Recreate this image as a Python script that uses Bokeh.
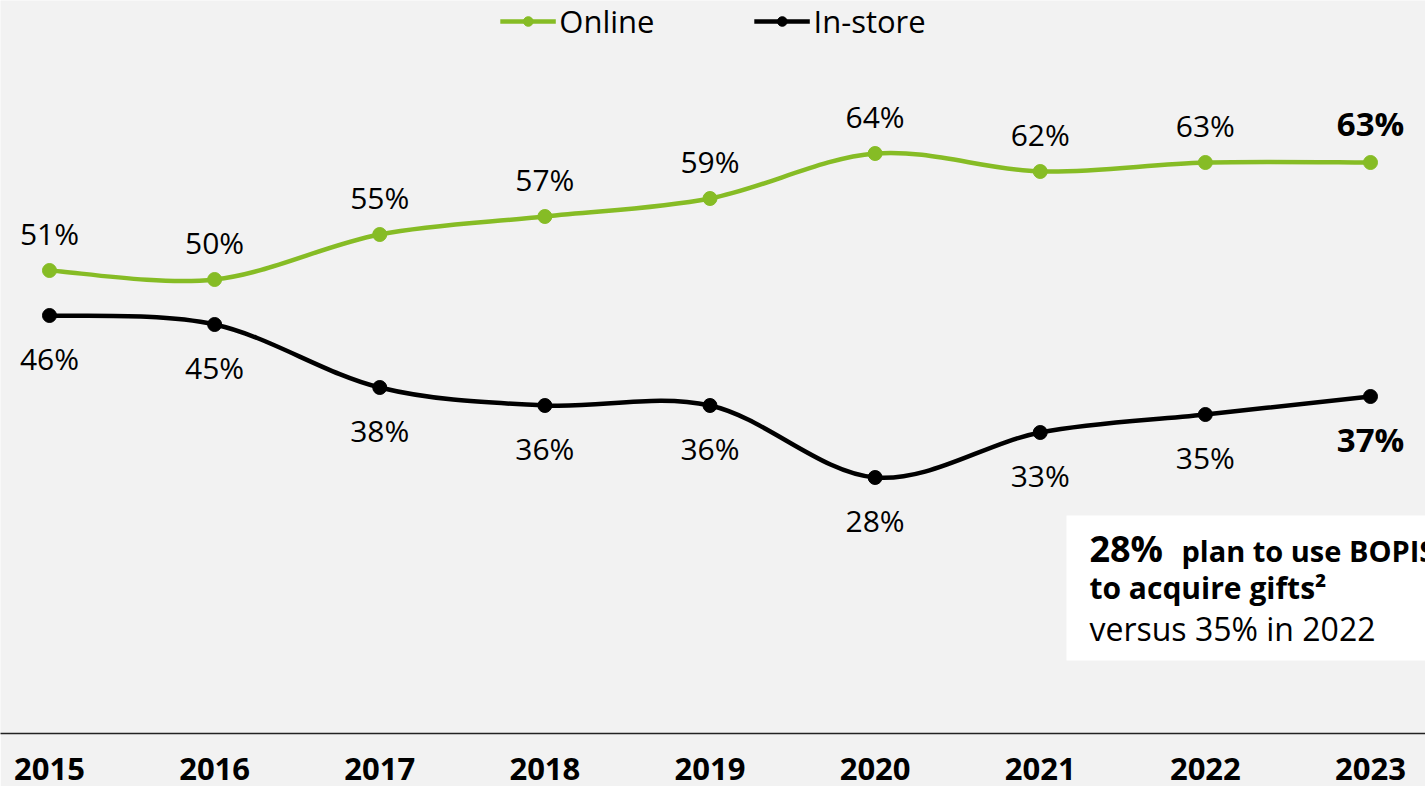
from bokeh.plotting import figure
from bokeh.models import Range1d, FixedTicker, Legend, LegendItem, Label, BoxAnnotation
from bokeh.embed import file_html
from bokeh.resources import INLINE
from bokeh.core.properties import value

years = [2015, 2016, 2017, 2018, 2019, 2020, 2021, 2022, 2023]
online = [51, 50, 55, 57, 59, 64, 62, 63, 63]
instore = [46, 45, 38, 36, 36, 28, 33, 35, 37]
series_names = ["Online", "In-store"]
note_head = "28%"
note_line1 = "plan to use BOPIS"
note_line2 = "to acquire gifts\u00b2"
note_line3 = "versus 35% in 2022"

GREEN = "#86bc25"
BLACK = "#000000"
BG = "#f2f2f2"
FONT = "Open Sans"

p = figure(width=1425, height=786, output_backend="svg", toolbar_location=None,
           x_range=Range1d(2014.7033, 2023.3331), y_range=Range1d(-0.444, 81.0),
           y_axis_location=None,
           min_border_left=0, min_border_right=0, min_border_top=0, min_border_bottom=53,
           background_fill_color=BG, border_fill_color=BG, outline_line_color=None)
p.grid.visible = False

xa = p.xaxis[0]
xa.ticker = FixedTicker(ticks=years)
xa.major_tick_line_color = None
xa.minor_tick_line_color = None
xa.axis_line_color = "#222222"
xa.axis_line_width = 1.5
xa.major_label_text_font = FONT
xa.major_label_text_font_size = "31px"
xa.major_label_text_font_style = "bold"
xa.major_label_text_color = BLACK
xa.major_label_standoff = 18


def bezier_parts(xs, ys):
    n = len(xs)
    out = dict(x0=[], y0=[], x1=[], y1=[], cx0=[], cy0=[], cx1=[], cy1=[])
    for i in range(n - 1):
        a = i - 1 if i > 0 else i
        d = i + 2 if i + 2 < n else i + 1
        out["x0"].append(xs[i]); out["y0"].append(ys[i])
        out["x1"].append(xs[i + 1]); out["y1"].append(ys[i + 1])
        out["cx0"].append(xs[i] + (xs[i + 1] - xs[a]) / 6.0)
        out["cy0"].append(ys[i] + (ys[i + 1] - ys[a]) / 6.0)
        out["cx1"].append(xs[i + 1] - (xs[d] - xs[i]) / 6.0)
        out["cy1"].append(ys[i + 1] - (ys[d] - ys[i]) / 6.0)
    return out


items = []
for name, ys, col in zip(series_names, (online, instore), (GREEN, BLACK)):
    b = bezier_parts(years, ys)
    br = p.bezier(source=b, x0="x0", y0="y0", x1="x1", y1="y1", cx0="cx0", cy0="cy0",
                  cx1="cx1", cy1="cy1", line_color=col, line_width=4.5)
    sr = p.scatter(years, ys, size=14, color=col)
    items.append(LegendItem(label=name, renderers=[br, sr]))

# data labels
p.text(years[:-1], online[:-1], text=[f"{v}%" for v in online[:-1]], y_offset=-37,
       text_align="center", text_baseline="alphabetic", text_font=value(FONT),
       text_font_size="30px", text_color=BLACK)
p.text(years[-1:], online[-1:], text=[f"{v}%" for v in online[-1:]], y_offset=-39,
       text_align="center", text_baseline="alphabetic", text_font=value(FONT),
       text_font_size="33px", text_font_style="bold", text_color=BLACK)
p.text(years[:-1], instore[:-1], text=[f"{v}%" for v in instore[:-1]], y_offset=43,
       text_align="center", text_baseline="alphabetic", text_font=value(FONT),
       text_font_size="30px", text_color=BLACK)
p.text(years[-1:], instore[-1:], text=[f"{v}%" for v in instore[-1:]], y_offset=43,
       text_align="center", text_baseline="alphabetic", text_font=value(FONT),
       text_font_size="33px", text_font_style="bold", text_color=BLACK)

legend = Legend(items=items, location="top_center", orientation="horizontal",
                glyph_width=56, glyph_height=24, label_standoff=4, spacing=99,
                padding=0, margin=0, background_fill_alpha=0, border_line_color=None,
                label_text_font=FONT, label_text_font_size="31px", label_text_color=BLACK)
p.add_layout(legend)

# note box
box = BoxAnnotation(left=2021.159, right=2024.0, top=23.78, bottom=7.67,
                    fill_color="white", fill_alpha=1.0, line_color=None)
p.add_layout(box)
p.add_layout(Label(x=2021.298, y=20.11, text=note_head, text_font=FONT,
                   text_font_size="36px", text_font_style="bold", text_color=BLACK,
                   text_baseline="alphabetic"))
p.add_layout(Label(x=2021.855, y=19.89, text=note_line1, text_font=FONT,
                   text_font_size="29px", text_font_style="bold", text_color=BLACK,
                   text_baseline="alphabetic"))
p.add_layout(Label(x=2021.298, y=15.78, text=note_line2, text_font=FONT,
                   text_font_size="30px", text_font_style="bold", text_color=BLACK,
                   text_baseline="alphabetic"))
p.add_layout(Label(x=2021.298, y=11.22, text=note_line3, text_font=FONT,
                   text_font_size="32px", text_color=BLACK,
                   text_baseline="alphabetic"))

open("out.html", "w").write(file_html(p, INLINE))
